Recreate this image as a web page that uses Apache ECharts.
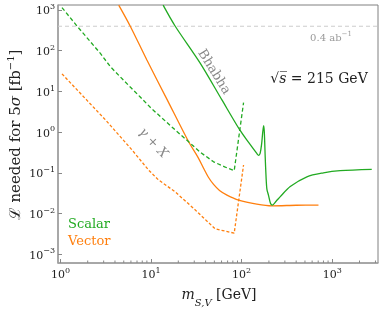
<!DOCTYPE html>
<html><head><meta charset="utf-8">
<script src="https://cdn.jsdelivr.net/npm/echarts@6/dist/echarts.min.js"></script>
<style>html,body{margin:0;padding:0;background:#fff}#c{width:382px;height:312px}</style>
</head><body><div id="c"></div>
<script>
// ---- data ----
const scalarBhabha = [[13.6,1320],[18.5,400],[35,49],[60.6,6.2],[95,1.15],[120,0.55],[147,0.30],[154,0.27],[160,0.30],[166,0.5],[171,1.0],[175,1.45],[178,1.0],[182,0.25],[186,0.08],[190,0.04],[198,0.028],[208,0.018],[218,0.0162],[240,0.02],[267,0.026],[344,0.046],[525,0.080],[800,0.10],[1222,0.113],[2730,0.122]];
const scalarGammaX = [[1.04,1150],[1.53,400],[2.76,86],[3.56,40.5],[5.9,12.8],[7.6,7.3],[10,3.9],[18.5,1.13],[26,0.58],[35,0.32],[49,0.187],[65,0.14],[82.8,0.113],[105,5.3]];
const vectorBhabha = [[4.4,1320],[5.9,400],[9,59],[15,6.4],[26,0.58],[33,0.24],[38,0.13],[43,0.078],[49,0.052],[57,0.037],[68.9,0.0285],[92.5,0.0215],[147,0.0171],[216,0.0155],[400,0.016],[705,0.0162]];
const vectorGammaX = [[1.04,27],[2,5.8],[3.14,2.0],[6.2,0.36],[9.4,0.117],[12,0.068],[18.5,0.034],[29.5,0.0134],[51,0.0042],[82.8,0.0033],[105,0.156]];
const lumiTarget = 400;               // 0.4 ab^-1 in fb^-1
const xRange = [0.94, 3200];
const yRange = [6.1e-4, 1330];
const xMinorTicks = [2,3,4,5,6,7,8,9,20,30,40,50,60,70,80,90,200,300,400,500,600,700,800,900,2000,3000];

const GREEN = '#22aa22', ORANGE = '#ff7f0e';
const FF = 'DejaVu Serif';

function powLabel(v){
  const e = Math.log10(v), r = Math.round(e);
  if (Math.abs(e - r) > 1e-6) return '';
  return '{b|10}{s|' + (r < 0 ? '\u2212' + (-r) : r) + '}';
}
const tickRich = {
  b:{fontFamily:FF,fontSize:11,color:'#222',lineHeight:14,verticalAlign:'bottom'},
  s:{fontFamily:FF,fontSize:8,color:'#222',lineHeight:9,verticalAlign:'top'}
};

const chart = echarts.init(document.getElementById('c'), null, {renderer:'canvas'});
chart.setOption({
  animation:false,
  backgroundColor:'#fff',
  grid:{left:58,right:4,top:5,bottom:49,show:true,borderColor:'#808080',borderWidth:1},
  xAxis:{type:'log',logBase:10,min:xRange[0],max:xRange[1],
    axisLine:{lineStyle:{color:'#a0a0a0',width:1.5}},
    axisTick:{inside:true,length:4,lineStyle:{color:'#888'}},
    splitLine:{show:false},
    axisLabel:{formatter:powLabel,rich:tickRich,margin:4,showMinLabel:false,showMaxLabel:false}},
  yAxis:{type:'log',logBase:10,min:yRange[0],max:yRange[1],
    axisLine:{lineStyle:{color:'#a0a0a0',width:1.5}},
    axisTick:{inside:true,length:4,lineStyle:{color:'#888'}},
    splitLine:{show:false},
    axisLabel:{formatter:powLabel,rich:tickRich,margin:3,showMinLabel:false,showMaxLabel:false}},
  series:[
    {type:'line',data:[[xRange[0],lumiTarget],[xRange[1],lumiTarget]],showSymbol:false,silent:true,
      lineStyle:{color:'#cccccc',width:1,type:[4,3]}},
    {type:'line',name:'Vector γ+X',data:vectorGammaX,showSymbol:false,smooth:false,
      lineStyle:{color:ORANGE,width:1.3,type:[3,2]}},
    {type:'line',name:'Vector Bhabha',data:vectorBhabha,showSymbol:false,smooth:0.3,
      lineStyle:{color:ORANGE,width:1.3}},
    {type:'line',name:'Scalar γ+X',data:scalarGammaX,showSymbol:false,smooth:false,
      lineStyle:{color:GREEN,width:1.3,type:[4,2.5]}},
    {type:'line',name:'Scalar Bhabha',data:scalarBhabha,showSymbol:false,smooth:0.3,
      lineStyle:{color:GREEN,width:1.3}},
    {type:'custom',silent:true,clip:false,data:xMinorTicks.map(v=>[v,yRange[0]]),
      renderItem:function(params,api){
        const p = api.coord([api.value(0),api.value(1)]);
        return {type:'line',shape:{x1:p[0],y1:p[1],x2:p[0],y2:p[1]-2.5},style:{stroke:'#888',lineWidth:1}};
      }}
  ],
  graphic:[
    {type:'text',x:15,y:135,rotation:Math.PI/2,style:{
      text:'{t|\u2112 needed for 5}{i|σ}{t| [fb}{s|\u22121}{t|]}',align:'center',verticalAlign:'middle',
      rich:{t:{fontFamily:FF,fontSize:15,fill:'#222',lineHeight:18,verticalAlign:'bottom'},
            i:{fontFamily:FF,fontSize:15,fontStyle:'italic',fill:'#222',lineHeight:18,verticalAlign:'bottom'},
            s:{fontFamily:FF,fontSize:10,fill:'#222',lineHeight:10,verticalAlign:'top'}}}},
    {type:'text',x:219,y:298,style:{
      text:'{i|m}{sub|S,V}{t| [GeV]}',align:'center',verticalAlign:'middle',
      rich:{t:{fontFamily:FF,fontSize:14,fill:'#222',lineHeight:20,verticalAlign:'top'},
            i:{fontFamily:FF,fontSize:14,fontStyle:'italic',fill:'#222',lineHeight:20,verticalAlign:'top'},
            sub:{fontFamily:FF,fontSize:10,fontStyle:'italic',fill:'#222',lineHeight:10,verticalAlign:'bottom'}}}},
    {type:'text',x:319,y:79,style:{
      text:'{t|√}{i|s\u0305}{t| = 215 GeV}',align:'center',verticalAlign:'middle',
      rich:{t:{fontFamily:FF,fontSize:14,fill:'#222'},i:{fontFamily:FF,fontSize:14,fontStyle:'italic',fill:'#222'}}}},
    {type:'text',x:331,y:37,style:{
      text:'{t|0.4 ab}{s|\u22121}',align:'center',verticalAlign:'middle',
      rich:{t:{fontFamily:FF,fontSize:10,fill:'#999',lineHeight:12,verticalAlign:'bottom'},
            s:{fontFamily:FF,fontSize:7,fill:'#999',lineHeight:7,verticalAlign:'top'}}}},
    {type:'text',x:214,y:72,rotation:-58*Math.PI/180,style:{
      text:'Bhabha',font:'13px "DejaVu Serif"',fill:'#888',align:'center',verticalAlign:'middle'}},
    {type:'text',x:153,y:143,rotation:-47*Math.PI/180,style:{
      text:'{i|γ}{t| + }{i|X}',align:'center',verticalAlign:'middle',
      rich:{t:{fontFamily:FF,fontSize:13,fill:'#888'},i:{fontFamily:FF,fontSize:13,fontStyle:'italic',fill:'#888'}}}},
    {type:'text',x:68,y:225,style:{text:'Scalar',font:'13px "DejaVu Serif"',fill:GREEN,align:'left',verticalAlign:'middle'}},
    {type:'text',x:68,y:242,style:{text:'Vector',font:'13px "DejaVu Serif"',fill:ORANGE,align:'left',verticalAlign:'middle'}}
  ]
});
</script></body></html>
